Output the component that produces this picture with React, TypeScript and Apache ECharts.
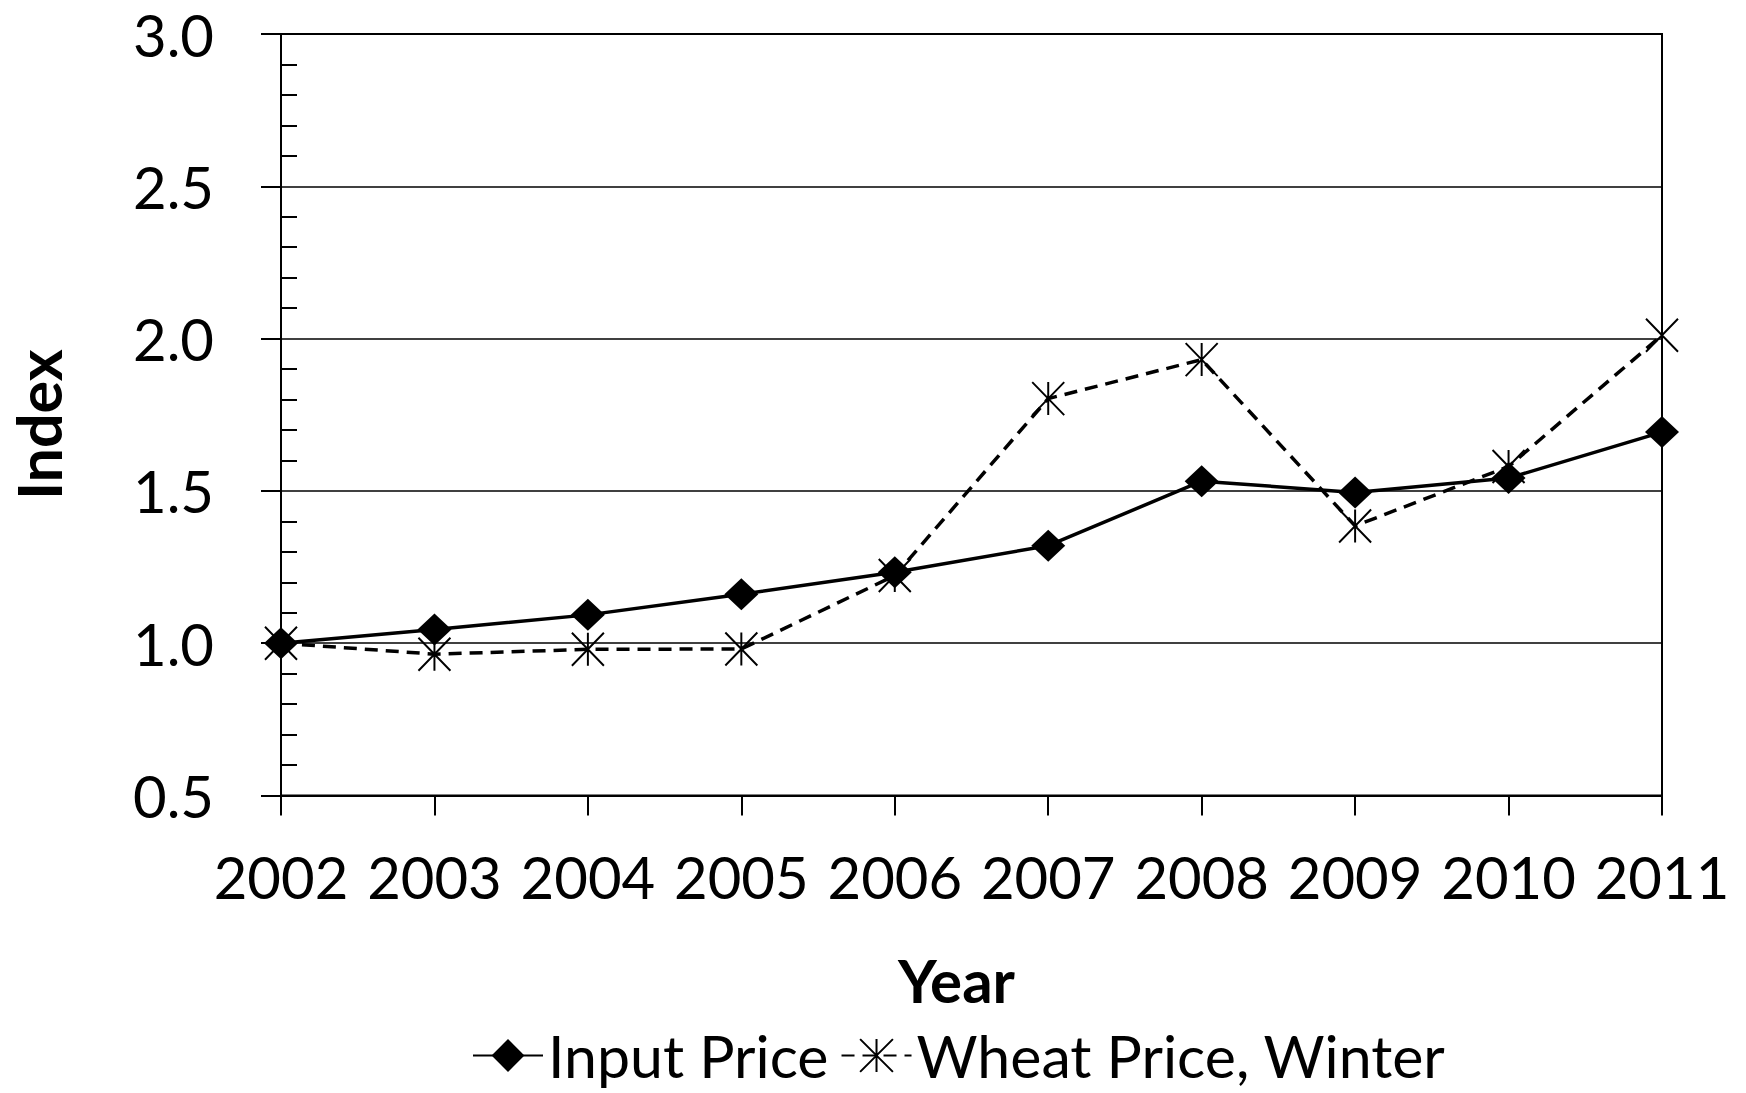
import React, { useEffect, useRef } from 'react';
import * as echarts from 'echarts';

const years = ['2002', '2003', '2004', '2005', '2006', '2007', '2008', '2009', '2010', '2011'];
const inputPrice = [1.0, 1.045, 1.093, 1.161, 1.233, 1.32, 1.532, 1.495, 1.542, 1.693];
const wheatPrice = [1.0, 0.964, 0.98, 0.981, 1.222, 1.803, 1.931, 1.385, 1.58, 2.011];
const yMin = 0.5;
const yMax = 3.0;
const yStep = 0.5;
const seriesNames = ['Input Price', 'Wheat Price, Winter'];
const axisNames = { x: 'Year', y: 'Index' };

const FONT = 'Lato';
const STAR = 'path://M0,0L32,33M32,0L0,33M16,0L16,33';

export default function App() {
  const ref = useRef<HTMLDivElement>(null);
  useEffect(() => {
    if (!ref.current) return;
    const chart = echarts.init(ref.current, null, { renderer: 'svg' });
    chart.setOption({
      animation: false,
      backgroundColor: '#fff',
      textStyle: { fontFamily: FONT, color: '#000' },
      grid: {
        left: 270,
        right: 84,
        top: 34,
        bottom: 297.5,
        show: true,
        borderColor: '#000',
        borderWidth: 2,
        backgroundColor: 'transparent',
      },
      legend: {
        data: seriesNames,
        left: 472,
        top: 1026,
        padding: 0,
        itemWidth: 70,
        itemHeight: 41,
        itemGap: 12,
        textStyle: { fontSize: 59, lineHeight: 56, fontFamily: FONT, color: '#000' },
      },
      xAxis: {
        type: 'category',
        data: years,
        boundaryGap: false,
        axisLine: { lineStyle: { color: '#000', width: 2 } },
        axisTick: { show: true, length: 20, lineStyle: { color: '#000', width: 2 } },
        axisLabel: { interval: 0, margin: 52, fontSize: 58, fontFamily: FONT, color: '#000' },
        splitLine: { show: false },
        name: axisNames.x,
        nameLocation: 'middle',
        nameGap: 154,
        nameTextStyle: {
          fontSize: 60,
          fontWeight: 'bold',
          fontFamily: FONT,
          color: '#000',
          padding: [0, 30, 0, 0],
        },
      },
      yAxis: [
        {
          type: 'value',
          min: yMin,
          max: yMax,
          interval: yStep,
          position: 'left',
          axisLine: { show: true, lineStyle: { color: '#000', width: 2 } },
          axisTick: { show: true, length: 20, lineStyle: { color: '#000', width: 2 } },
          axisLabel: {
            margin: 67,
            fontSize: 58,
            fontFamily: FONT,
            color: '#000',
            formatter: (v: number) => v.toFixed(1),
          },
          splitLine: { show: true, lineStyle: { color: '#000', width: 1.5 } },
          name: axisNames.y,
          nameLocation: 'middle',
          nameGap: 212,
          nameTextStyle: {
            fontSize: 61,
            fontWeight: 'bold',
            fontFamily: FONT,
            color: '#000',
            padding: [0, 20, 0, 0],
          },
        },
        {
          type: 'value',
          min: yMin,
          max: yMax,
          interval: yStep,
          position: 'left',
          offset: 0,
          axisLine: { show: false },
          axisTick: { show: false, inside: true },
          minorTick: { show: true, splitNumber: 5, length: 16, lineStyle: { color: '#000', width: 2 } },
          axisLabel: { show: false },
          splitLine: { show: false },
        },
      ],
      series: [
        {
          name: seriesNames[0],
          type: 'line',
          data: inputPrice,
          yAxisIndex: 0,
          symbol: 'diamond',
          symbolSize: [34, 32],
          itemStyle: { color: '#000' },
          lineStyle: { color: '#000', width: 3.5 },
          emphasis: { disabled: true },
        },
        {
          name: seriesNames[1],
          type: 'line',
          data: wheatPrice,
          yAxisIndex: 0,
          symbol: STAR,
          symbolSize: [32, 33],
          itemStyle: { color: '#000', borderColor: '#000', borderWidth: 2 },
          lineStyle: { color: '#000', width: 3.5, type: [13, 8] },
          emphasis: { disabled: true },
        },
      ],
    });
    return () => chart.dispose();
  }, []);
  return (
    <div
      ref={ref}
      style={{ position: 'fixed', left: 0, top: 0, width: 1746, height: 1093, background: '#fff' }}
    />
  );
}
